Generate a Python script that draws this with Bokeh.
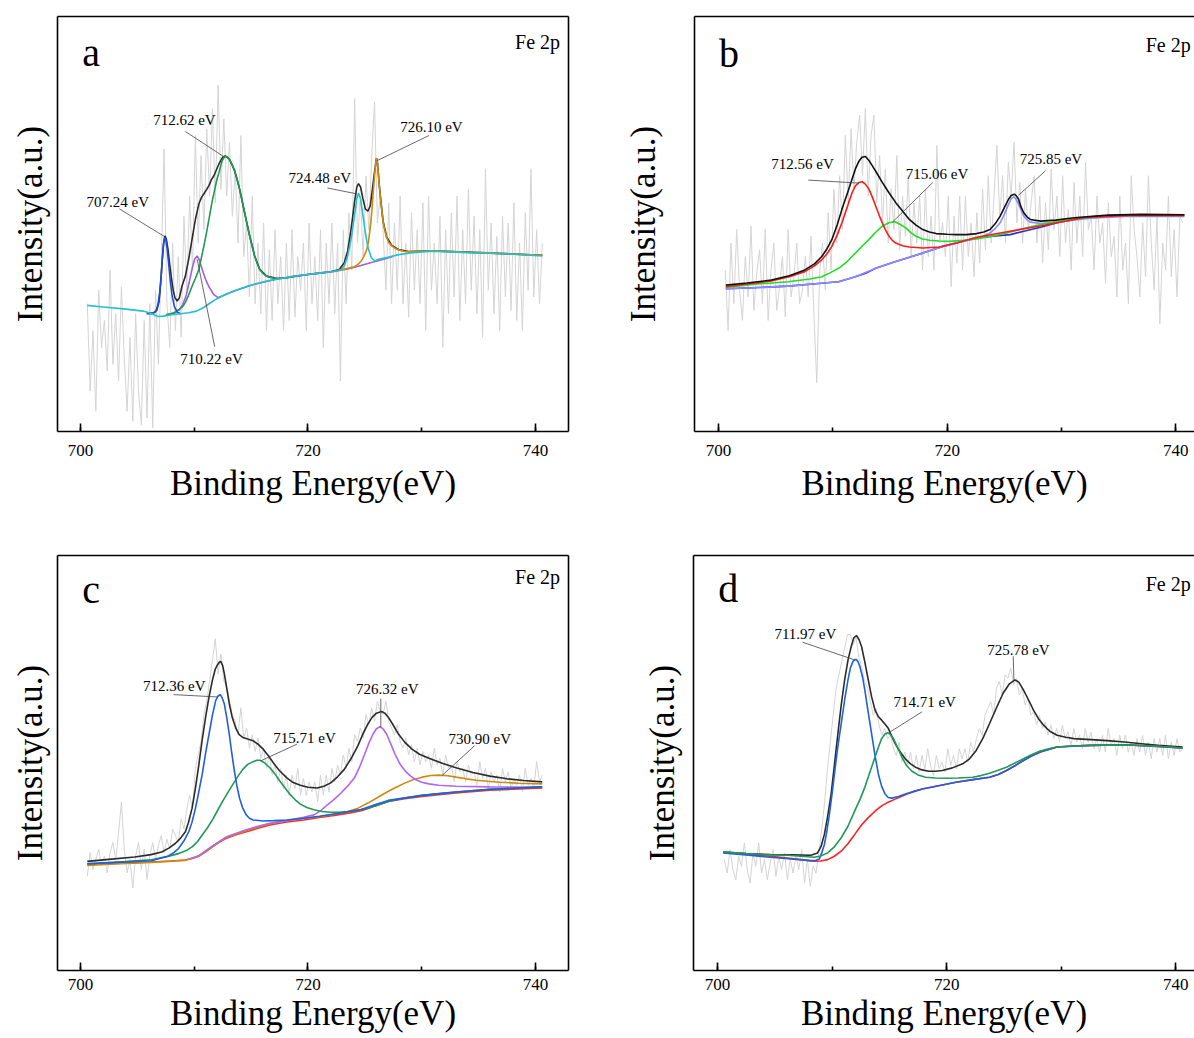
import numpy as np
from bokeh.plotting import figure
from bokeh.models import Range1d, LinearAxis, FixedTicker, SingleIntervalTicker, Label
from bokeh.layouts import column, row
from bokeh.embed import file_html
from bokeh.resources import INLINE

FONT = "Liberation Serif"

# ---------------- raw scans (grey), energy grid start / step ----------------
RAW_START, RAW_STEP = 700.6, 0.25

A_RAW = [380, 120, 300, 60, 420, 250, 330, 180, 480, 200, 350, 150, 430, 220, 60, 280,
         30, 350, 120, 20, 330, 40, 380, 10, 420, 200, 500, 840, 380, 250, 560, 300,
         520, 280, 640, 420, 700, 480, 880, 560, 820, 600, 900, 700, 960, 680, 1030, 720,
         930, 700, 860, 640, 780, 560, 880, 520, 620, 400, 700, 380, 560, 350, 620, 300,
         540, 330, 600, 380, 520, 300, 560, 330, 600, 340, 520, 420, 560, 300, 620, 380,
         520, 330, 600, 250, 560, 380, 620, 350, 560, 150, 600, 380, 650, 480, 990, 560,
         700, 520, 760, 600, 820, 980, 620, 700, 600, 420, 680, 380, 620, 420, 700, 380,
         560, 340, 650, 420, 600, 380, 680, 300, 700, 420, 560, 380, 640, 250, 600, 350,
         650, 400, 700, 330, 600, 380, 720, 420, 640, 350, 600, 280, 780, 420, 620, 350,
         580, 300, 640, 400, 620, 360, 680, 330, 560, 300, 650, 420, 780, 400, 600, 380,
         560]

B_RAW = [480, 300, 560, 380, 600, 420, 330, 520, 400, 610, 360, 470, 540, 380, 600, 330,
         480, 560, 360, 430, 520, 340, 600, 400, 460, 560, 380, 420, 520, 400, 580, 350,
         145, 470, 560, 420, 650, 480, 720, 560, 760, 600, 880, 680, 900, 720, 860, 940,
         760, 960, 700, 880, 940, 680, 820, 620, 780, 560, 720, 600, 820, 540, 700, 580,
         760, 520, 680, 560, 700, 480, 720, 520, 640, 480, 850, 560, 620, 520, 700, 430,
         640, 500, 700, 480, 700, 520, 620, 460, 650, 500, 720, 540, 760, 560, 700, 850,
         640, 760, 560, 800, 700, 860, 620, 740, 560, 720, 600, 680, 760, 560, 700, 500,
         680, 540, 780, 600, 700, 520, 760, 560, 660, 480, 740, 560, 700, 520, 800, 600,
         640, 480, 700, 560, 620, 440, 680, 520, 580, 400, 700, 480, 560, 380, 760, 600,
         520, 400, 620, 460, 760, 560, 420, 640, 320, 560, 480, 700, 460, 600, 400, 640,
         620]

C_RAW = [280, 350, 300, 330, 360, 310, 340, 290, 350, 380, 330, 410, 500, 360, 290, 330,
         245, 340, 380, 300, 360, 270, 340, 380, 330, 370, 400, 350, 390, 360, 420, 400,
         380, 450, 420, 480, 520, 480, 600, 640, 680, 760, 800, 860, 920, 985, 880, 940,
         860, 840, 800, 760, 740, 700, 780, 690, 720, 660, 700, 650, 690, 630, 660, 600,
         640, 580, 610, 560, 600, 540, 580, 520, 580, 540, 600, 520, 570, 520, 560, 530,
         560, 500, 580, 520, 580, 530, 600, 560, 610, 580, 640, 600, 660, 620, 700, 680,
         720, 690, 760, 730, 780, 740, 800, 770, 760, 800, 740, 720, 700, 730, 680, 660,
         690, 640, 670, 620, 660, 610, 650, 620, 640, 600, 660, 610, 630, 580, 640, 600,
         610, 560, 620, 590, 600, 560, 610, 580, 590, 550, 620, 570, 600, 540, 590, 560,
         580, 530, 600, 560, 590, 540, 570, 550, 580, 530, 600, 550, 570, 540, 620, 560,
         580]

D_RAW = [330, 290, 360, 300, 270, 340, 310, 380, 300, 260, 350, 310, 380, 290, 330, 270,
         320, 360, 280, 340, 300, 350, 270, 330, 290, 340, 300, 360, 260, 330, 250, 310,
         290, 350, 420, 500, 600, 680, 760, 840, 880, 920, 960, 1000, 1000, 970, 990, 930,
         900, 860, 840, 800, 760, 780, 730, 700, 720, 690, 700, 660, 640, 680, 620, 650,
         610, 650, 600, 640, 590, 640, 600, 660, 610, 580, 640, 600, 620, 590, 660, 610,
         640, 600, 660, 630, 660, 620, 680, 650, 690, 720, 700, 760, 780, 800, 760, 840,
         860, 820, 880, 870, 900, 850, 870, 820, 840, 790, 810, 760, 770, 730, 760, 720,
         740, 700, 730, 690, 720, 680, 730, 690, 710, 670, 720, 680, 700, 660, 720, 680,
         710, 660, 690, 650, 700, 650, 720, 670, 690, 640, 700, 660, 700, 650, 680, 640,
         690, 650, 700, 640, 680, 630, 690, 650, 690, 640, 700, 630, 680, 640, 690, 650,
         660]

# ---------------- panel a : fitted curves (eV, intensity) ----------------
A_FIT = [(706.0, 352), (706.4, 353), (706.7, 360), (706.9, 385), (707.05, 440), (707.2, 515), (707.3, 558),
         (707.42, 582), (707.55, 572), (707.7, 540), (707.85, 495), (708.0, 455), (708.15, 420), (708.3, 398),
         (708.5, 388), (708.7, 398), (708.92, 432), (709.22, 462), (709.51, 512), (709.81, 572), (710.11, 632),
         (710.41, 677), (710.65, 697), (710.85, 707), (711.1, 720), (711.3, 732), (711.5, 748), (711.75, 762),
         (712.0, 782), (712.19, 797), (712.49, 815), (712.7, 819), (712.9, 816), (713.08, 810), (713.3, 795),
         (713.53, 777), (713.75, 752), (713.98, 722), (714.42, 652), (714.87, 582), (715.31, 522), (715.76, 482),
         (716.35, 462), (717.25, 455), (718.14, 457), (720, 467), (721, 471), (722, 475), (722.75, 482),
         (723.19, 502), (723.49, 537), (723.79, 602), (724.09, 682), (724.29, 727), (724.44, 737), (724.62, 727),
         (724.83, 692), (725.04, 662), (725.27, 655), (725.48, 672), (725.63, 712), (725.81, 762), (726.02, 812),
         (726.1, 802), (726.17, 774), (726.27, 732), (726.38, 694), (726.5, 657), (726.61, 624), (726.91, 579),
         (727.36, 553), (727.95, 541), (728.84, 535), (731, 537), (735, 532), (740.6, 524)]
A_707 = [(705.8, 350), (706.3, 350), (706.6, 356), (706.8, 375), (706.95, 410), (707.1, 465), (707.2, 515),
         (707.3, 555), (707.4, 577), (707.5, 570), (707.6, 548), (707.75, 500), (707.9, 445), (708.05, 405),
         (708.25, 372), (708.5, 355), (708.8, 350)]
A_710 = [(707.6, 347), (708.2, 352), (708.7, 362), (709.0, 378), (709.3, 405), (709.6, 450), (709.85, 490),
         (710.05, 513), (710.25, 522), (710.45, 510), (710.7, 482), (711.0, 452), (711.3, 430), (711.7, 408),
         (712.1, 398), (712.6, 405), (713.5, 418), (715, 435), (717, 451), (719, 463), (721, 471), (722.5, 477),
         (723.5, 483), (724.5, 492), (725.5, 502), (726.5, 511), (727.5, 521)]
A_712 = [(707.5, 347), (708.2, 352), (708.62, 362), (709.0, 372), (709.22, 384), (709.5, 405), (709.81, 432),
         (710.1, 455), (710.41, 482), (710.65, 520), (710.85, 552), (711.1, 595), (711.3, 632), (711.55, 680),
         (711.75, 712), (712.0, 750), (712.19, 772), (712.45, 805), (712.7, 819), (712.9, 816), (713.08, 810),
         (713.3, 795), (713.53, 777), (713.75, 752), (713.98, 722), (714.2, 688), (714.42, 652), (714.65, 615),
         (714.87, 582), (715.1, 550), (715.31, 522), (715.55, 498), (715.76, 482), (716.05, 470), (716.35, 462),
         (716.8, 457), (717.25, 455), (718.14, 457), (719, 463)]
A_726 = [(722.5, 478), (723.5, 485), (724.09, 490), (724.4, 497), (724.68, 507), (724.9, 520), (725.13, 537),
         (725.3, 560), (725.42, 592), (725.53, 625), (725.63, 662), (725.72, 705), (725.81, 742), (725.92, 790),
         (726.02, 812), (726.1, 800), (726.17, 772), (726.27, 730), (726.38, 692), (726.5, 655), (726.61, 622),
         (726.75, 598), (726.91, 577), (727.1, 562), (727.36, 552), (727.65, 545), (727.95, 540), (728.4, 536),
         (728.84, 534), (730, 536), (730.93, 537), (732, 536), (734, 533), (736, 531), (738, 528), (740.6, 524)]
A_724 = [(700.6, 375), (702, 370), (704, 364), (705.5, 358), (706.3, 350), (706.8, 342), (707.3, 343),
         (708, 347), (708.8, 350), (709.5, 353), (710.2, 358), (710.8, 368), (711.4, 382), (712, 395),
         (712.6, 405), (713.5, 418), (714.5, 430), (715.5, 440), (716.5, 448), (717.5, 454), (718.5, 460),
         (720, 467), (721, 471), (722, 475), (722.6, 478), (722.9, 481), (723.19, 492), (723.49, 522),
         (723.79, 572), (724.09, 642), (724.29, 692), (724.44, 709), (724.62, 692), (724.83, 642), (725.04, 592),
         (725.27, 547), (725.57, 517), (725.87, 507), (726.2, 512), (727, 518), (728, 526), (729, 531),
         (730, 534), (731, 536), (732, 535), (734, 532), (736, 530), (738, 527), (740.6, 522)]

# ---------------- panel b ----------------
B_BG = [(700.65, 424), (703, 427), (706.09, 432), (708.5, 439), (710.51, 445), (711.98, 460), (713.0, 472),
        (713.75, 485), (715.51, 505), (717.87, 530), (719.63, 550), (720.81, 560), (722.58, 575), (724.0, 580),
        (725.52, 585), (726.7, 595), (728.17, 607), (729.64, 620), (731.1, 630), (732.58, 638), (735.53, 643),
        (740.74, 642)]
B_725 = [(700.65, 424), (703, 427), (706.09, 432), (708.5, 439), (710.51, 445), (711.98, 460), (713.75, 485),
         (715.51, 505), (717.87, 530), (719.63, 550), (720.81, 560), (722.0, 570), (723.0, 578), (723.75, 590),
         (724.2, 603), (724.64, 620), (725.0, 645), (725.37, 675), (725.6, 692), (725.81, 697), (726.0, 692),
         (726.25, 675), (726.5, 655), (726.7, 640), (727.0, 628), (727.28, 622), (728.17, 618), (729.64, 622),
         (731, 628), (732.58, 634), (735.53, 639), (740.74, 639)]
B_712 = [(700.65, 430), (702.5, 438), (704.62, 447), (706.2, 460), (707.56, 475), (708.4, 492), (709.04, 510),
         (709.5, 528), (709.92, 550), (710.4, 585), (710.8, 620), (711.1, 650), (711.39, 680), (711.7, 710),
         (711.98, 730), (712.3, 740), (712.57, 742), (712.85, 735), (713.16, 720), (713.45, 697), (713.75, 670),
         (714.05, 643), (714.33, 620), (714.62, 598), (714.92, 580), (715.2, 568), (715.51, 560), (716.1, 552),
         (716.69, 548), (717.87, 545), (719.34, 548), (720.81, 560), (722.6, 577), (725, 592), (728, 610),
         (732, 636), (736, 642), (740.74, 642)]
B_715 = [(700.65, 428), (703, 437), (706.09, 445), (708, 453), (709.04, 460), (709.8, 472), (710.51, 485),
         (711.25, 505), (711.98, 530), (712.6, 552), (713.16, 570), (713.75, 592), (714.33, 610), (714.9, 620),
         (715.42, 623), (715.9, 615), (716.39, 605), (716.85, 590), (717.28, 580), (717.85, 572), (718.45, 568),
         (719.3, 566), (720.22, 565), (721.4, 568), (722.58, 572), (723.9, 580), (725.22, 590), (726.7, 603),
         (728.17, 615), (730, 625), (731.5, 632), (733, 638), (735, 642), (740.74, 642)]
B_FIT = [(700.65, 435), (702.5, 441), (704.62, 450), (706.2, 463), (707.56, 480), (708.4, 498), (709.04, 520),
         (709.5, 543), (709.92, 570), (710.4, 615), (710.8, 660), (711.25, 705), (711.69, 750), (712.0, 782),
         (712.27, 802), (712.55, 815), (712.86, 817), (713.15, 806), (713.45, 790), (713.9, 765), (714.33, 740),
         (714.9, 710), (715.51, 680), (716.1, 655), (716.69, 630), (717.28, 613), (717.87, 600), (718.45, 593),
         (719.04, 588), (720.0, 586), (720.81, 585), (721.7, 585), (722.58, 588), (723.2, 593), (723.75, 600),
         (724.2, 617), (724.64, 640), (725.0, 665), (725.37, 690), (725.6, 701), (725.87, 705), (726.05, 700),
         (726.25, 690), (726.45, 668), (726.7, 650), (727.0, 637), (727.28, 630), (728.17, 625), (729.5, 628),
         (731.11, 635), (734.06, 643), (737, 645), (740.74, 644)]

# ---------------- panel c ----------------
C_BG = [(700.6, 314), (703, 318), (706.24, 322), (708, 325), (709.22, 328), (709.9, 333), (710.41, 340),
        (711.0, 352), (711.6, 367), (712.2, 381), (712.79, 392), (713.6, 402), (714.57, 412), (715.6, 422),
        (716.65, 432), (718, 440), (719.62, 447), (721, 454), (722.6, 462), (723.7, 468), (724.68, 474),
        (725.3, 481), (725.87, 488), (726.5, 495), (727.06, 502), (728.5, 510), (730.03, 517), (731.5, 522),
        (733.01, 527), (735.98, 535), (738, 538), (740.59, 542)]
C_712 = [(700.6, 317), (703, 321), (706.24, 326), (707.73, 340), (708.2, 350), (708.62, 362), (709.1, 385),
         (709.52, 412), (709.8, 440), (710.11, 482), (710.4, 530), (710.7, 582), (711.0, 645), (711.3, 702),
         (711.6, 758), (711.89, 802), (712.1, 815), (712.28, 819), (712.45, 810), (712.64, 792), (712.85, 752),
         (713.08, 702), (713.3, 645), (713.53, 592), (713.75, 548), (713.98, 512), (714.25, 483), (714.57, 462),
         (714.85, 452), (715.17, 447), (716.06, 444), (717, 445), (718.14, 447), (719.62, 452), (721, 458),
         (722.6, 466), (724.68, 478), (725.87, 492), (727.06, 505), (730.03, 520), (733.01, 530), (735.98, 538),
         (740.59, 545)]
C_715 = [(700.6, 317), (703, 321), (706.24, 329), (707.6, 338), (708.62, 347), (709.3, 356), (709.81, 367),
         (710.3, 383), (710.7, 402), (711.15, 423), (711.6, 447), (712.05, 475), (712.49, 502), (712.95, 528),
         (713.38, 552), (713.85, 577), (714.27, 597), (714.7, 612), (715.17, 620), (715.5, 624), (715.82, 624),
         (716.2, 616), (716.65, 602), (717.1, 583), (717.54, 562), (718.0, 541), (718.44, 522), (718.9, 506),
         (719.33, 494), (719.9, 484), (720.52, 477), (721.2, 472), (722.0, 470), (722.7, 470), (723.49, 472),
         (724.4, 476), (725.27, 482), (726.2, 492), (727.06, 502), (728.5, 512), (730.03, 520), (731.5, 525),
         (733.01, 530), (735.98, 538), (738, 541), (740.59, 545)]
C_726 = [(709.5, 330), (710.41, 341), (711.6, 370), (712.79, 396), (714.57, 418), (715.17, 424), (716.65, 437),
         (718.14, 445), (719.62, 455), (720.52, 462), (721.1, 474), (721.71, 492), (722.3, 508), (722.9, 527),
         (723.5, 548), (724.09, 572), (724.55, 605), (724.98, 642), (725.35, 675), (725.72, 702), (726.0, 717),
         (726.32, 724), (726.6, 717), (726.91, 702), (727.25, 675), (727.65, 642), (728.1, 612), (728.55, 592),
         (729.0, 578), (729.44, 567), (730.0, 559), (730.63, 554), (731.5, 550), (733.01, 547), (735.98, 545),
         (740.59, 544)]
C_731 = [(700.6, 312), (703, 316), (706.24, 321), (709.22, 327), (710.41, 339), (711.6, 368), (712.79, 394),
         (714.57, 415), (716.65, 436), (718.14, 445), (719.62, 451), (721.11, 457), (722.3, 464), (723.49, 472),
         (724.4, 482), (725.27, 497), (726.2, 515), (727.06, 532), (727.8, 545), (728.55, 557), (729.3, 567),
         (730.03, 574), (730.8, 579), (731.52, 580), (732.3, 578), (733.01, 574), (733.9, 569), (734.79, 565),
         (735.8, 562), (736.87, 559), (738.5, 556), (740.59, 554)]
C_FIT = [(700.6, 324), (702.5, 330), (704.76, 337), (706.2, 344), (707.14, 352), (707.8, 364), (708.33, 377),
         (708.8, 393), (709.22, 412), (709.5, 440), (709.81, 482), (710.1, 540), (710.41, 612), (710.7, 685),
         (711.0, 752), (711.3, 812), (711.6, 862), (711.85, 895), (712.04, 907), (712.2, 915), (712.34, 917),
         (712.5, 905), (712.64, 882), (712.85, 840), (713.08, 792), (713.35, 750), (713.68, 717), (713.95, 700),
         (714.27, 692), (714.7, 687), (715.17, 682), (715.6, 672), (716.06, 657), (716.5, 638), (716.95, 617),
         (717.5, 593), (718.14, 572), (718.7, 558), (719.33, 550), (720.0, 544), (720.81, 542), (721.4, 547),
         (722.0, 557), (722.6, 575), (723.19, 597), (723.8, 630), (724.38, 667), (724.8, 700), (725.27, 732),
         (725.65, 752), (726.02, 764), (726.46, 769), (726.75, 764), (727.06, 752), (727.5, 728), (727.95, 702),
         (728.5, 678), (729.14, 657), (729.8, 642), (730.63, 630), (731.8, 615), (733.01, 602), (734.5, 588),
         (735.98, 577), (737.5, 569), (738.95, 564), (740.59, 560)]

# ---------------- panel d ----------------
D_BG = [(700.5, 353), (702.5, 347), (704.62, 340), (706.5, 333), (708.0, 327), (708.45, 325), (709.0, 326),
        (709.62, 330), (710.2, 340), (710.8, 355), (711.4, 378), (711.98, 405), (712.55, 432), (713.16, 455),
        (713.75, 474), (714.33, 490), (714.9, 501), (715.51, 510), (716.6, 526), (717.87, 540), (719.3, 550),
        (720.81, 560), (722.3, 568), (723.75, 575), (724.5, 583), (725.22, 595), (726.0, 610), (726.7, 625),
        (727.4, 638), (728.17, 650), (728.9, 658), (729.64, 665), (731, 668), (732.58, 670), (735.53, 672),
        (738, 668), (740.59, 662)]
D_712 = [(700.5, 350), (702.5, 344), (704.62, 337), (706.5, 332), (708.15, 327), (708.6, 328), (708.89, 332),
         (709.1, 350), (709.33, 375), (709.55, 415), (709.77, 465), (710.0, 525), (710.21, 585), (710.5, 665),
         (710.8, 735), (711.1, 805), (711.39, 865), (711.6, 900), (711.83, 920), (712.0, 925), (712.13, 925),
         (712.28, 918), (712.42, 905), (712.65, 875), (712.86, 835), (713.15, 770), (713.45, 705), (713.75, 640),
         (714.04, 585), (714.33, 548), (714.63, 525), (714.9, 515), (715.22, 513), (715.8, 518), (716.39, 525),
         (717.1, 533), (717.87, 540), (719.3, 550), (720.81, 560), (722.3, 568), (723.75, 575), (724.5, 583),
         (725.22, 595), (726.0, 610), (726.7, 625), (727.4, 638), (728.17, 650), (729.64, 665), (732.58, 670),
         (735.53, 672), (740.59, 662)]
D_714 = [(700.5, 353), (702.5, 348), (704.62, 344), (706.09, 343), (708.45, 337), (709.0, 341), (709.62, 350),
         (710.2, 368), (710.8, 395), (711.4, 430), (711.98, 475), (712.45, 510), (712.86, 545), (713.3, 590),
         (713.75, 635), (714.05, 665), (714.33, 690), (714.6, 703), (714.86, 708), (715.1, 702), (715.36, 690),
         (715.7, 665), (716.1, 635), (716.5, 610), (716.98, 593), (717.5, 582), (718.16, 575), (719.0, 573),
         (719.93, 572), (721.0, 573), (722.28, 575), (723.0, 580), (723.75, 587), (724.5, 596), (725.22, 605),
         (726.0, 618), (726.7, 630), (727.4, 642), (728.17, 653), (728.9, 660), (729.64, 665), (731, 668),
         (732.58, 670), (735.53, 671), (738, 668), (740.59, 662)]
D_FIT = [(700.5, 352), (702.5, 348), (704.62, 345), (706.5, 344), (708.15, 343), (708.74, 350), (709.05, 370),
         (709.33, 405), (709.6, 455), (709.92, 525), (710.2, 610), (710.51, 705), (710.8, 790), (711.1, 865),
         (711.4, 925), (711.68, 965), (711.9, 990), (712.13, 997), (712.35, 985), (712.57, 965), (712.85, 920),
         (713.16, 865), (713.45, 815), (713.75, 775), (714.05, 755), (714.33, 745), (714.63, 733), (714.92, 720),
         (715.2, 698), (715.51, 675), (715.95, 650), (716.39, 630), (716.85, 615), (717.28, 605), (717.85, 597),
         (718.45, 593), (719.0, 593), (719.63, 595), (720.5, 603), (721.4, 615), (722.0, 630), (722.58, 655),
         (723.15, 690), (723.75, 735), (724.35, 782), (724.93, 825), (725.45, 852), (725.96, 865), (726.3, 858),
         (726.7, 835), (727.15, 805), (727.58, 775), (728.0, 750), (728.46, 730), (729.0, 712), (729.64, 700),
         (730.4, 694), (731.11, 690), (732.58, 687), (734, 684), (735.53, 680), (737, 675), (738.47, 670),
         (740.59, 665)]

# ---------------- texts ----------------
PANEL_LETTERS = ["a", "b", "c", "d"]
REGION = "Fe 2p"
X_TITLE = "Binding Energy(eV)"
Y_TITLE = "Intensity(a.u.)"
A_PEAKS = ["707.24 eV", "710.22 eV", "712.62 eV", "724.48 eV", "726.10 eV"]
B_PEAKS = ["712.56 eV", "715.06 eV", "725.85 eV"]
C_PEAKS = ["712.36 eV", "715.71 eV", "726.32 eV", "730.90 eV"]
D_PEAKS = ["711.97 eV", "714.71 eV", "725.78 eV"]

# annotation placement (text baseline anchor, leader start, leader end) -- styling only
A_ANN = [((700.54, 667), (703.42, 662), (707.37, 580)),
         ((708.77, 200), (711.8, 252), (710.26, 512)),
         ((706.39, 912), (709.22, 892), (712.70, 815)),
         ((718.29, 740), (721.71, 724), (724.23, 707)),
         ((728.10, 890), (730.63, 880), (726.05, 805))]
B_ANN = [((704.62, 780), (707.86, 747), (712.27, 738)),
         ((716.39, 750), (718.75, 740), (715.22, 622)),
         ((726.34, 795), (728.61, 775), (726.25, 702))]
C_ANN = [((705.50, 830), (708.18, 819), (712.04, 812)),
         ((716.95, 677), (719.03, 672), (715.82, 622)),
         ((724.23, 822), (726.40, 807), (726.40, 722)),
         ((732.35, 674), (734.64, 667), (731.82, 580))]
D_ANN = [((704.97, 987), (707.42, 977), (711.92, 925)),
         ((715.36, 785), (717.86, 770), (715.07, 710)),
         ((723.54, 940), (725.81, 935), (725.87, 865))]

FRAME_H = 415


def make_fig(xr, ytop, width, height, left, right, bottom, lab_off, title_off, ylab_off, right_box):
    p = figure(width=width, height=height, x_range=Range1d(*xr), y_range=Range1d(0, ytop),
               output_backend="svg", toolbar_location=None,
               x_axis_location=None, y_axis_location=None,
               min_border_left=left, min_border_right=right, min_border_top=16,
               min_border_bottom=bottom)
    p.outline_line_color = None
    p.background_fill_color = "white"
    p.border_fill_color = "white"
    p.grid.visible = False

    xa = LinearAxis(ticker=SingleIntervalTicker(interval=20, num_minor_ticks=2), axis_label=X_TITLE)
    xa.axis_label_text_font = FONT
    xa.axis_label_text_font_size = "35px"
    xa.axis_label_text_font_style = "normal"
    xa.axis_label_text_color = "black"
    xa.major_label_text_font = FONT
    xa.major_label_text_font_size = "17px"
    xa.major_label_text_color = "black"
    xa.major_tick_in = 8
    xa.major_tick_out = 0
    xa.minor_tick_in = 4
    xa.minor_tick_out = 0
    xa.axis_line_width = 1.6
    xa.major_tick_line_width = 1.6
    xa.minor_tick_line_width = 1.6
    xa.major_label_standoff = lab_off
    xa.axis_label_standoff = title_off
    p.add_layout(xa, "below")

    ya = LinearAxis(ticker=FixedTicker(ticks=[]), axis_label=Y_TITLE)
    ya.axis_label_text_font = FONT
    ya.axis_label_text_font_size = "35px"
    ya.axis_label_text_font_style = "normal"
    ya.axis_label_text_color = "black"
    ya.major_tick_out = 0
    ya.minor_tick_out = 0
    ya.major_label_standoff = 0
    ya.axis_label_standoff = ylab_off
    ya.axis_line_width = 1.6
    p.add_layout(ya, "left")

    sides = ["above"] + (["right"] if right_box else [])
    for side in sides:
        ax = LinearAxis(ticker=FixedTicker(ticks=[]))
        ax.major_tick_out = 0
        ax.minor_tick_out = 0
        ax.major_label_standoff = 0
        ax.axis_line_width = 1.6
        p.add_layout(ax, side)
    return p


def draw_raw(p, raw):
    xs = np.round(RAW_START + RAW_STEP * np.arange(len(raw)), 3)
    p.line(xs, raw, line_color="#d4d4d4", line_width=1)


def draw_curve(p, pts, color, lw=1.6):
    p.line([q[0] for q in pts], [q[1] for q in pts], line_color=color, line_width=lw)


def text_at(p, ytop, x, y_base, txt, size, align="left"):
    # place by the glyphs' optical middle (0.33 em above the baseline)
    dy = 0.33 * size * ytop / FRAME_H
    p.add_layout(Label(x=x, y=y_base + dy, text=txt, text_font=FONT, text_font_size=f"{size}px",
                       text_baseline="middle", text_align=align, text_color="black"))


def decorate(p, ytop, letter, letter_xy, fe_xy, peaks, ann):
    text_at(p, ytop, letter_xy[0], letter_xy[1], letter, 40)
    text_at(p, ytop, fe_xy[0], fe_xy[1], REGION, 20, "right")
    p.segment(x0=[a[1][0] for a in ann], y0=[a[1][1] for a in ann],
              x1=[a[2][0] for a in ann], y1=[a[2][1] for a in ann],
              line_color="#444444", line_width=0.8)
    for txt, a in zip(peaks, ann):
        text_at(p, ytop, a[0][0], a[0][1], txt, 15)


XR_LEFT = (697.98, 742.90)
XR_RIGHT = (697.91, 741.63)

# panel a
pa = make_fig(XR_LEFT, 1234, 620, 539, 57, 52, 108, 13, 5, 8, True)
draw_raw(pa, A_RAW)
draw_curve(pa, A_FIT, "#2b2b2b")
draw_curve(pa, A_710, "#a35ee3")
draw_curve(pa, A_712, "#1e9a55")
draw_curve(pa, A_707, "#1f4fd8")
draw_curve(pa, A_726, "#cc8a10")
draw_curve(pa, A_724, "#22c2c8")
decorate(pa, 1234, PANEL_LETTERS[0], (700.15, 1087), (742.16, 1138), A_PEAKS, A_ANN)

# panel b
pb = make_fig(XR_RIGHT, 1233, 574, 539, 73, 0, 108, 13, 5, 32, False)
draw_raw(pb, B_RAW)
draw_curve(pb, B_BG, "#2a2ae0")
draw_curve(pb, B_725, "#8c8cff")
draw_curve(pb, B_715, "#22dd22")
draw_curve(pb, B_712, "#ff1a1a")
draw_curve(pb, B_FIT, "#111111")
decorate(pb, 1233, PANEL_LETTERS[1], (700.06, 1085), (741.30, 1128), B_PEAKS, B_ANN)

# panel c
pc = make_fig(XR_LEFT, 1232, 620, 499, 57, 52, 68, 8, 1, 8, True)
draw_raw(pc, C_RAW)
draw_curve(pc, C_FIT, "#2b2b2b")
draw_curve(pc, C_BG, "#ff2a2a")
draw_curve(pc, C_731, "#cc8a10")
draw_curve(pc, C_726, "#b066ee")
draw_curve(pc, C_715, "#1e9a55")
draw_curve(pc, C_712, "#1f5fe0")
decorate(pc, 1232, PANEL_LETTERS[2], (700.15, 1092), (742.16, 1150), C_PEAKS, C_ANN)

# panel d
pd_ = make_fig(XR_RIGHT, 1235, 574, 499, 73, 0, 68, 8, 1, 12, False)
draw_raw(pd_, D_RAW)
draw_curve(pd_, D_FIT, "#2b2b2b")
draw_curve(pd_, D_BG, "#ff2020")
draw_curve(pd_, D_712, "#1f5fe0")
draw_curve(pd_, D_714, "#1e9a55")
decorate(pd_, 1235, PANEL_LETTERS[3], (700.06, 1097), (741.30, 1130), D_PEAKS, D_ANN)

layout = column(row(pa, pb), row(pc, pd_))
open("out.html", "w").write(file_html(layout, INLINE))
